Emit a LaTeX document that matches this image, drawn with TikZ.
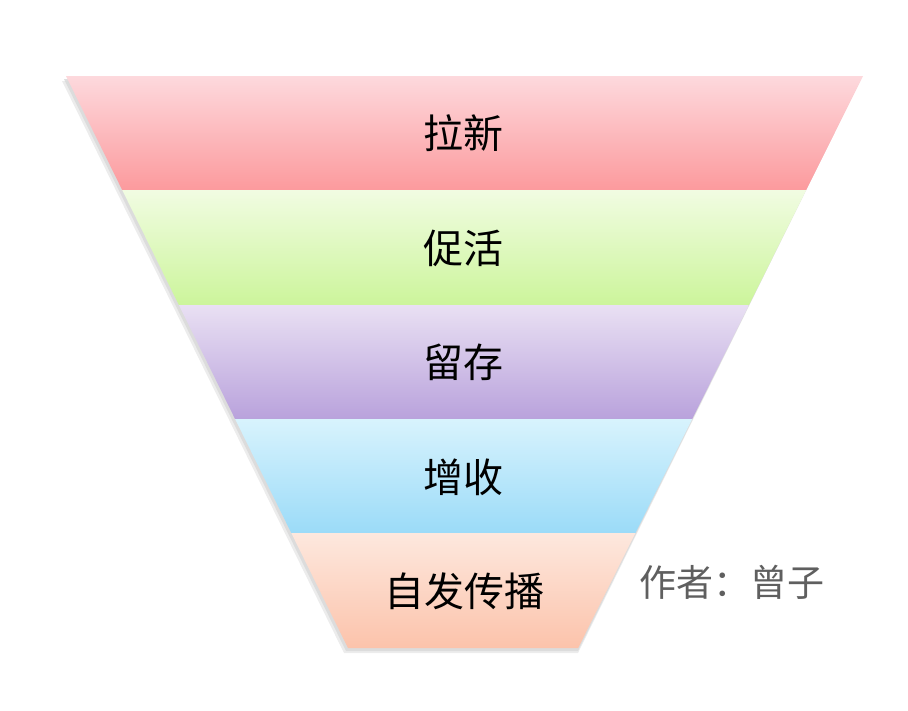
\documentclass[tikz,border=0pt]{standalone}
\usepackage{fontspec}
\newfontfamily\cjk{Noto Sans CJK SC}
\usetikzlibrary{calc}
\definecolor{rTop}{HTML}{FDD9DD}\definecolor{rBot}{HTML}{FC9A9D}
\definecolor{gTop}{HTML}{F1FCE2}\definecolor{gBot}{HTML}{CCF59B}
\definecolor{pTop}{HTML}{E9E0F3}\definecolor{pBot}{HTML}{B9A2DC}
\definecolor{bTop}{HTML}{D8F3FD}\definecolor{bBot}{HTML}{9BDBF8}
\definecolor{oTop}{HTML}{FDE8DE}\definecolor{oBot}{HTML}{FCC3AB}
\definecolor{authorgray}{HTML}{5F5F5F}
\tikzset{
  bandlabel/.style={font=\cjk\fontsize{40}{44}\selectfont, text=black, inner sep=0pt},
  authorlabel/.style={font=\cjk\fontsize{37}{40}\selectfont, text=authorgray, inner sep=0pt, anchor=west},
}
\begin{document}
\begin{tikzpicture}[x=1pt,y=-1pt]
\useasboundingbox (0,0) rectangle (908,710);
\def\bandL#1{\fpeval{66+0.493*(#1-76)}}
\def\bandR#1{\fpeval{863-0.498*(#1-76)}}
% shadow
\fill[black!25,opacity=0.5] (64,79) -- (861,79) -- (578,651) -- (346,651) -- cycle;
\fill[black!15,opacity=0.5] (62,81) -- (860,81) -- (578,653) -- (344,653) -- cycle;
% bands
\foreach \ya/\yb/\ct/\cb in {76/190/rTop/rBot, 190/305/gTop/gBot, 305/419/pTop/pBot, 419/533/bTop/bBot, 533/648/oTop/oBot}{
  \shade[top color=\ct, bottom color=\cb]
    (\bandL{\ya},\ya) -- (\bandR{\ya},\ya) -- (\bandR{\yb},\yb) -- (\bandL{\yb},\yb) -- cycle;
}
\node[bandlabel] (l1) at (463,133) {拉新};
\node[bandlabel] (l2) at (463,248) {促活};
\node[bandlabel] (l3) at (463,362) {留存};
\node[bandlabel] (l4) at (463,477) {增收};
\node[bandlabel] (l5) at (464,591) {自发传播};
\node[authorlabel] (auth) at (639,582) {作者：曾子};
\end{tikzpicture}
\end{document}
